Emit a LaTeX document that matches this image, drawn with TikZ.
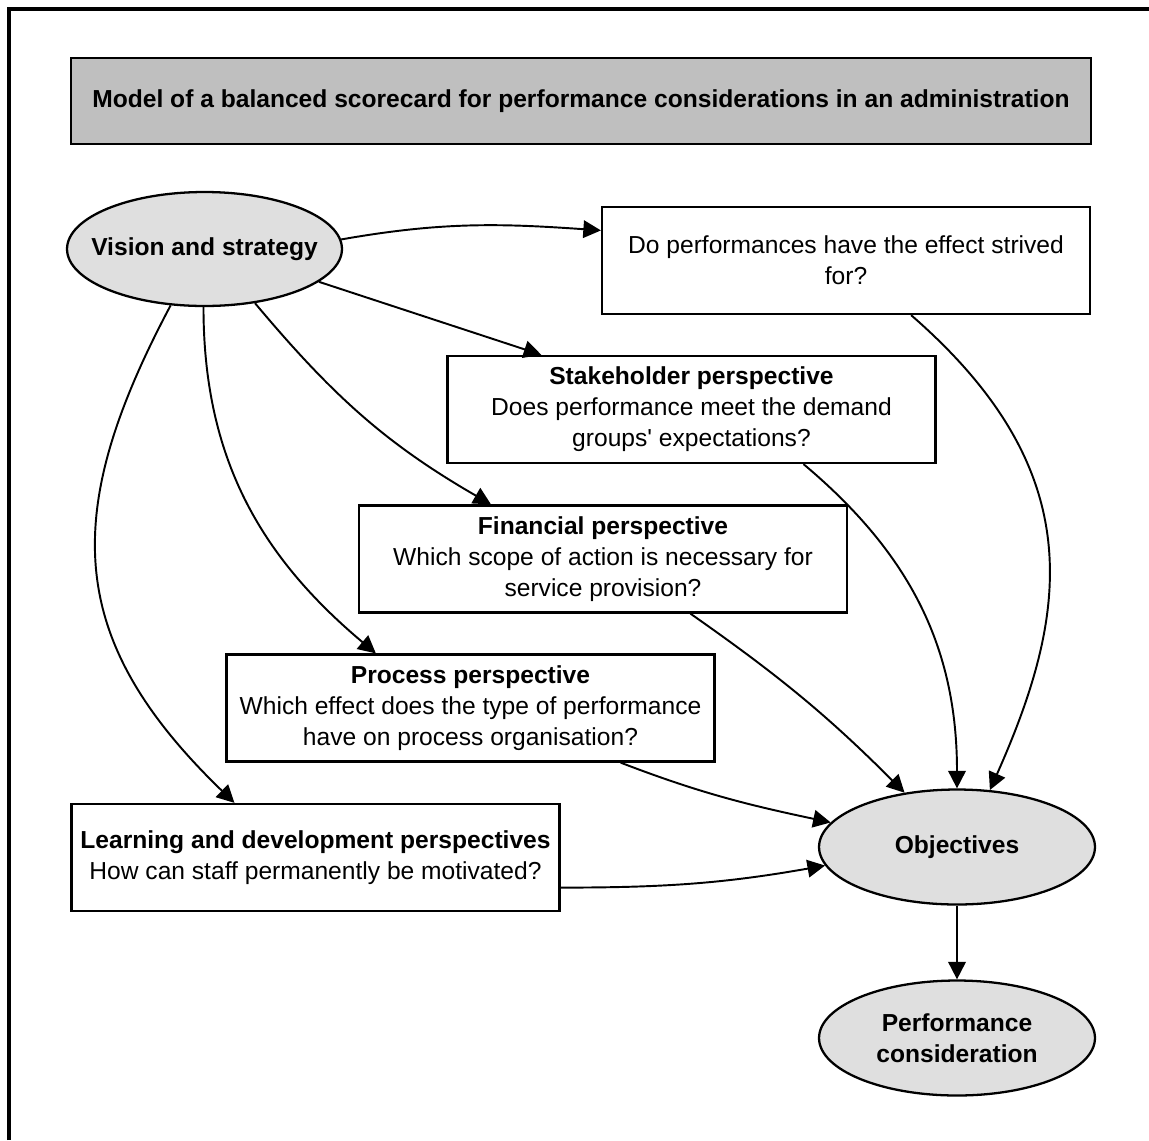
\documentclass[tikz,border=0pt]{standalone}
\usepackage{fontspec}
\setmainfont{Liberation Sans}[Ligatures=TeXOff]
\usetikzlibrary{arrows.meta,shapes.geometric}

\begin{document}
\begin{tikzpicture}[x=0.02cm, y=-0.02cm, >={Triangle[length=10pt,width=10pt]},
    font=\fontsize{14}{17.6}\selectfont,
    box/.style={draw, line width=1.3pt, minimum width=9.76cm, minimum height=2.14cm, inner sep=0pt, align=center},
    oval/.style={draw, ellipse, line width=1.3pt, fill=gray!25, inner sep=0pt, minimum width=5.52cm, minimum height=2.3cm},
    ovaltext/.style={align=center, font=\fontsize{14}{17.6}\selectfont\bfseries},
    link/.style={->, line width=1.1pt}]
    \useasboundingbox (0,0) rectangle (1149,1140);

    % Moldura
    \draw[line width=2pt] (9,1140) -- (9,9) -- (1149,9);

    % Titulo
    \node[box, fill=gray!50, minimum width=20.4cm, minimum height=1.72cm, font=\fontsize{14}{17.6}\selectfont\bfseries] (title) at (581,101)
        {Model of a balanced scorecard for performance considerations in an administration};

    % Elipses
    \node[oval, minimum width=5.5cm, minimum height=2.28cm] (vis) at (204.5,249) {};
    \node[ovaltext] (visT) at (vis) {Vision and strategy};
    \node[oval] (obj) at (957,847) {};
    \node[ovaltext] (objT) at (obj) {Objectives};
    \node[oval] (perf) at (957,1038) {};
    \node[ovaltext] (perfT) at (perf) {Performance\\consideration};

    % Caixas
    \node[box] (eff) at (846,260.5) {Do performances have the effect strived\\for?};
    \node[box] (stake) at (691.5,409.5) {\textbf{Stakeholder perspective}\\Does performance meet the demand\\groups' expectations?};
    \node[box] (fin) at (603,559) {\textbf{Financial perspective}\\Which scope of action is necessary for\\service provision?};
    \node[box] (proc) at (470.5,708) {\textbf{Process perspective}\\Which effect does the type of performance\\have on process organisation?};
    \node[box] (learn) at (315.5,857.5) {\textbf{Learning and development perspectives}\\How can staff permanently be motivated?};

    % Setas da visao
    \draw[link] (vis.4) to[out=10, in=176] (eff.173);
    \draw[link] (vis.-16) -- (stake.160);
    \draw[link] (vis.-47) to[out=-50, in=150] (fin.154);
    \draw[link] (vis.-91) to[out=-90, in=140] (proc.150);
    \draw[link] (vis.-121) to[out=-118, in=136, looseness=1.2] (learn.146);

    % Setas para os objetivos
    \draw[link] (eff.-40) to[out=-41, in=66, out looseness=1.26, in looseness=1.04] (obj.60);
    \draw[link] (stake.-26) to[out=-40, in=90] (obj.90);
    \draw[link] (fin.-32) to[out=-35, in=135] (obj.134);
    \draw[link] (proc.-20) to[out=-21, in=168] (obj.169);
    \draw[link] (learn.-7) to[out=0, in=190] (obj.188);
    \draw[link] (obj) -- (perf);
\end{tikzpicture}
\end{document}
